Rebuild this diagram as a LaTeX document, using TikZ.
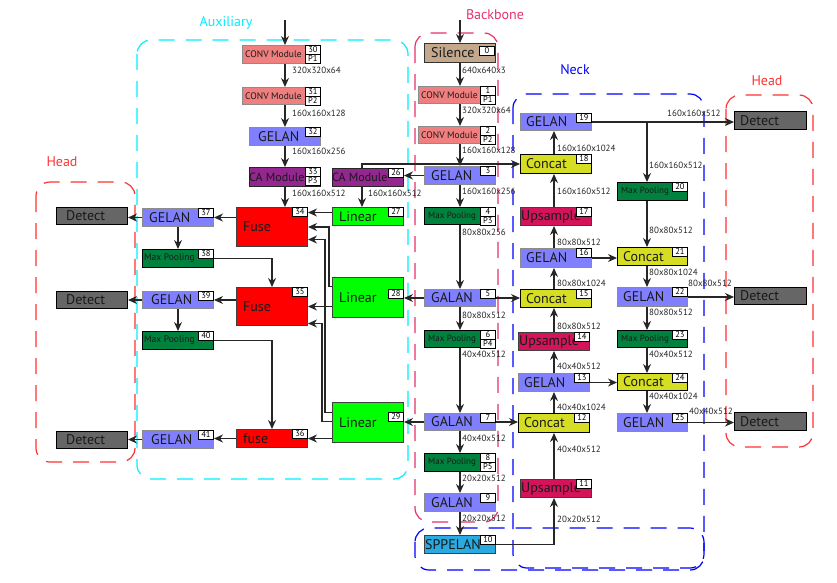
\documentclass[tikz,border=0pt]{standalone}
\usepackage{fontspec}
\setmainfont{PT Sans}
\usetikzlibrary{arrows.meta,calc}
\definecolor{cSil}{RGB}{196,168,140}
\definecolor{cConv}{RGB}{240,128,128}
\definecolor{cGel}{RGB}{128,128,255}
\definecolor{cCA}{RGB}{147,39,143}
\definecolor{cMP}{RGB}{0,130,62}
\definecolor{cCat}{RGB}{214,222,35}
\definecolor{cUp}{RGB}{212,20,90}
\definecolor{cFuse}{RGB}{255,0,0}
\definecolor{cLin}{RGB}{0,255,0}
\definecolor{cDet}{RGB}{102,102,102}
\definecolor{cSpp}{RGB}{41,171,226}
\definecolor{rAux}{RGB}{0,240,255}
\definecolor{rBB}{RGB}{230,50,110}
\definecolor{rNeck}{RGB}{0,0,255}
\definecolor{rHead}{RGB}{255,50,50}
\newcommand\blk[9]{%
  \node[bxbase,#2,minimum width=#5pt-#3pt,minimum height=#6pt-#4pt] (#1) at (#3,#4) {};
  \node[txt,#8] (#1-t) at ([xshift=#7pt]#1.west) {#9};}
\newcommand\nb[2]{\node[numb,anchor=north east] (#1-n) at (#1.north east) {#2};}
\newcommand\nbp[3]{\nb{#1}{#2}\node[numb,anchor=north] (#1-p) at (#1-n.south) {#3};}
\begin{document}
\begin{tikzpicture}[x=1pt,y=-1pt,
  bxbase/.style={rectangle,anchor=north west,inner sep=0pt,line width=1pt},
  sil/.style={fill=cSil,draw=black!80},
  conv/.style={fill=cConv,draw=black!45},
  gel/.style={fill=cGel,draw=black!45},
  ca/.style={fill=cCA,draw=black!85},
  mp/.style={fill=cMP,draw=black},
  cat/.style={fill=cCat,draw=black},
  ups/.style={fill=cUp,draw=black!75},
  fuse/.style={fill=cFuse,draw=black!75},
  lin/.style={fill=cLin,draw=black!75},
  det/.style={fill=cDet,draw=black},
  spp/.style={fill=cSpp,draw=black!75},
  txt/.style={anchor=west,inner sep=0pt,text=black!90},
  big/.style={font=\fontsize{14}{14}\selectfont},
  mid/.style={font=\fontsize{12}{12}\selectfont},
  small/.style={font=\fontsize{9.5}{10}\selectfont},
  tiny/.style={font=\fontsize{9}{9}\selectfont},
  numb/.style={draw=black,fill=white,line width=0.7pt,minimum width=15.5pt,minimum height=8.5pt,inner sep=0pt,font=\fontsize{8.5}{8.5}\selectfont},
  lbl/.style={anchor=west,inner sep=0pt,font=\fontsize{9}{9}\selectfont,text=black!85},
  ttl/.style={inner sep=0pt,font=\fontsize{14}{14}\selectfont},
  arr/.style={draw=black!85,line width=1.1pt,-{Stealth[length=9pt,width=8pt]}},
  reg/.style={line width=1.2pt,dash pattern=on 16pt off 11pt,rounded corners=14pt}]
\fill[white] (0,0) rectangle (837,582);
\useasboundingbox (0,0) rectangle (837,582);
% regions
\draw[reg,rAux] (137,40) rectangle (408,479);
\draw[reg,rBB] (415,33) rectangle (498,522);
\draw[reg,rNeck] (513,94) rectangle (704,568);
\draw[reg,rNeck] (415,528) rectangle (704,570);
\draw[reg,rHead] (726,95) rectangle (813,447);
\draw[reg,rHead] (36,182) rectangle (135,462);
\node[ttl,text=rAux] (tAux) at (226,23) {Auxiliary};
\node[ttl,text=rBB] (tBB) at (495,15) {Backbone};
\node[ttl,text=rNeck] (tNeck) at (575,70) {Neck};
\node[ttl,text=rHead] (tHeadR) at (767,81) {Head};
\node[ttl,text=rHead] (tHeadL) at (62,162) {Head};
% column coordinates
\coordinate (colA) at (285,0);
\coordinate (colB) at (460,0);
\coordinate (colN1) at (554,0);
\coordinate (colN2) at (647,0);
\coordinate (colCA) at (362,0);
\coordinate (colL) at (178,0);
\coordinate (colF) at (272,0);
\coordinate (inA) at (285,20);
\coordinate (inB) at (460,20);
% backbone
\blk{s0}{sil}{424}{43}{495}{62}{7}{big}{Silence}
\node[numb,anchor=north east] (s0-n) at ([xshift=-1pt,yshift=-3pt]s0.north east) {0};
\blk{c1}{conv}{418}{86}{495}{103}{3}{small}{CONV Module}\nbp{c1}{1}{P1}
\blk{c2}{conv}{418}{126}{495}{143}{3}{small}{CONV Module}\nbp{c2}{2}{P2}
\blk{g3}{gel}{424}{166}{495}{184}{7}{big}{GELAN}\nb{g3}{3}
\blk{mp4}{mp}{424}{207}{495}{224}{4}{tiny}{Max Pooling}\nbp{mp4}{4}{P3}
\blk{g5}{gel}{424}{289}{495}{306}{7}{big}{GALAN}\nb{g5}{5}
\blk{mp6}{mp}{424}{330}{495}{347}{4}{tiny}{Max Pooling}\nbp{mp6}{6}{P4}
\blk{g7}{gel}{424}{413}{495}{430}{7}{big}{GALAN}\nb{g7}{7}
\blk{mp8}{mp}{424}{453}{495}{471}{4}{tiny}{Max Pooling}\nbp{mp8}{8}{P5}
\blk{g9}{gel}{424}{493}{495}{511}{7}{big}{GALAN}\nb{g9}{9}
\blk{sp10}{spp}{424}{535}{495}{553}{1}{big}{SPPELAN}\nb{sp10}{10}
% neck column 1
\blk{g19}{gel}{520}{113}{591}{130}{6}{big}{GELAN}\nb{g19}{19}
\blk{c18}{cat}{520}{154}{591}{173}{6}{big}{Concat}\nb{c18}{18}
\blk{u17}{ups}{520}{207}{591}{225}{1}{big}{Upsample}\nb{u17}{17}
\blk{g16}{gel}{520}{248}{591}{267}{6}{big}{GELAN}\nb{g16}{16}
\blk{c15}{cat}{520}{289}{591}{307}{6}{big}{Concat}\nb{c15}{15}
\blk{u14}{ups}{518}{332}{589}{350}{1}{big}{Upsample}\nb{u14}{14}
\blk{g13}{gel}{518}{373}{589}{391}{6}{big}{GELAN}\nb{g13}{13}
\blk{c12}{cat}{518}{413}{589}{432}{6}{big}{Concat}\nb{c12}{12}
\blk{u11}{ups}{520}{479}{591}{497}{1}{big}{Upsample}\nb{u11}{11}
% neck column 2
\blk{mp20}{mp}{617}{182}{687}{200}{4}{tiny}{Max Pooling}\nb{mp20}{20}
\blk{c21}{cat}{617}{247}{687}{265}{6}{big}{Concat}\nb{c21}{21}
\blk{g22}{gel}{617}{287}{687}{306}{6}{big}{GELAN}\nb{g22}{22}
\blk{mp23}{mp}{617}{330}{687}{347}{4}{tiny}{Max Pooling}\nb{mp23}{23}
\blk{c24}{cat}{617}{373}{687}{390}{6}{big}{Concat}\nb{c24}{24}
\blk{g25}{gel}{617}{413}{687}{431}{6}{big}{GELAN}\nb{g25}{25}
% head right
\blk{d1}{det}{734}{111}{806}{129}{6}{big}{Detect}
\blk{d2}{det}{734}{287}{806}{304}{6}{big}{Detect}
\blk{d3}{det}{734}{412}{806}{430}{6}{big}{Detect}
% auxiliary
\blk{c30}{conv}{242}{45}{320}{63}{3}{small}{CONV Module}\nbp{c30}{30}{P1}
\blk{c31}{conv}{242}{87}{320}{104}{3}{small}{CONV Module}\nbp{c31}{31}{P2}
\blk{g32}{gel}{249}{127}{320}{145}{9}{big}{GELAN}\nb{g32}{32}
\blk{ca33}{ca}{249}{167}{320}{186}{0}{mid}{CA Module}\nbp{ca33}{33}{P3}
\blk{ca26}{ca}{332}{168}{403}{186}{0}{mid}{CA Module}\nb{ca26}{26}
\blk{f34}{fuse}{236}{207}{307}{246}{7}{big}{Fuse}\nb{f34}{34}
\blk{l27}{lin}{332}{207}{403}{225}{7}{big}{Linear}\nb{l27}{27}
\blk{g37}{gel}{142}{208}{213}{226}{7}{big}{GELAN}\nb{g37}{37}
\blk{d4}{det}{56}{207}{127}{224}{10}{big}{Detect}
\blk{mp38}{mp}{142}{249}{213}{267}{2}{small}{Max Pooling}\nb{mp38}{38}
\blk{f35}{fuse}{236}{287}{307}{325}{7}{big}{Fuse}\nb{f35}{35}
\blk{l28}{lin}{332}{277}{403}{317}{7}{big}{Linear}
\node[numb,anchor=north east] (l28-n) at ([yshift=-12pt]l28.north east) {28};
\blk{g39}{gel}{142}{291}{213}{308}{9}{big}{GELAN}\nb{g39}{39}
\blk{d5}{det}{56}{291}{127}{308}{10}{big}{Detect}
\blk{mp40}{mp}{142}{331}{213}{349}{2}{small}{Max Pooling}\nb{mp40}{40}
\blk{f36}{fuse}{236}{429}{307}{447}{7}{big}{fuse}\nb{f36}{36}
\blk{l29}{lin}{332}{402}{403}{442}{7}{big}{Linear}
\node[numb,anchor=north east] (l29-n) at ([yshift=-10pt]l29.north east) {29};
\blk{g41}{gel}{142}{430}{213}{448}{9}{big}{GELAN}\nb{g41}{41}
\blk{d6}{det}{56}{431}{127}{448}{10}{big}{Detect}
% backbone arrows
\draw[arr] (inB) -- (s0.north -| inB);
\draw[arr] (s0.south -| colB) -- (c1.north -| colB);
\draw[arr] (c1.south -| colB) -- (c2.north -| colB);
\draw[arr] (c2.south -| colB) -- (g3.north -| colB);
\draw[arr] (g3.south -| colB) -- (mp4.north -| colB);
\draw[arr] (mp4.south -| colB) -- (g5.north -| colB);
\draw[arr] (g5.south -| colB) -- (mp6.north -| colB);
\draw[arr] (mp6.south -| colB) -- (g7.north -| colB);
\draw[arr] (g7.south -| colB) -- (mp8.north -| colB);
\draw[arr] (mp8.south -| colB) -- (g9.north -| colB);
\draw[arr] (g9.south -| colB) -- (sp10.north -| colB);
\node[lbl] (e1) at (462,70) {640x640x3};
\node[lbl] (e2) at (462,110) {320x320x64};
\node[lbl] (e3) at (462,150) {160x160x128};
\node[lbl] (e4) at (462,191) {160x160x256};
\node[lbl] (e5) at (462,232) {80x80x256};
\node[lbl] (e6) at (462,315) {80x80x512};
\node[lbl] (e7) at (462,354) {40x40x512};
\node[lbl] (e8) at (462,438) {40x40x512};
\node[lbl] (e9) at (462,478) {20x20x512};
\node[lbl] (e10) at (462,518) {20x20x512};
% aux column arrows
\draw[arr] (inA) -- (c30.north -| inA);
\draw[arr] (c30.south -| colA) -- (c31.north -| colA);
\draw[arr] (c31.south -| colA) -- (g32.north -| colA);
\draw[arr] (g32.south -| colA) -- (ca33.north -| colA);
\draw[arr] (ca33.south -| colA) -- (f34.north -| colA);
\node[lbl] (a1) at (292,70) {320x320x64};
\node[lbl] (a2) at (292,113) {160x160x128};
\node[lbl] (a3) at (292,151) {160x160x256};
\node[lbl] (a4) at (292,193) {160x160x512};
\node[lbl] (a5) at (368,193) {160x160x512};
% backbone to aux / neck
\draw[arr] (g3.west) -- (g3.west -| ca26.east);
\draw[arr] (ca26.south -| colCA) -- (l27.north -| colCA);
\draw[arr] (ca26.north -| colCA) |- (c18.west);
\draw[arr] (g5.west) -- (g5.west -| l28.east);
\draw[arr] (g5.east) -- (g5.east -| c15.west);
\draw[arr] (g7.west) -- (g7.west -| l29.east);
\draw[arr] (g7.east) -- (g7.east -| c12.west);
\draw[arr] (sp10.east) -| (u11.south -| colN1);
% linear to fuse
\draw[arr] ([yshift=4pt]l27.west) -- ([yshift=4pt]l27.west -| f34.east);
\draw[arr] ([yshift=11pt]l28.west) -- ++(-3,0) |- (f34.east);
\draw[arr] (l28.west |- f35.east) -- (f35.east);
\draw[arr] ([yshift=10pt]l29.west) -- ++(-7,0) |- ([yshift=-12.5pt]f34.east);
\draw[arr] ([yshift=1pt]l29.west) -- ++(-10,0) |- ([yshift=-17pt]f35.east);
\draw[arr] (l29.west |- f36.east) -- (f36.east);
% aux left
\draw[arr] (f34.west |- g37.east) -- (g37.east);
\draw[arr] (g37.west) -- (g37.west -| d4.east);
\draw[arr] (g37.south -| colL) -- (mp38.north -| colL);
\draw[arr] (mp38.east) -| (f35.north -| colF);
\draw[arr] (f35.west |- g39.east) -- (g39.east);
\draw[arr] (g39.west) -- (g39.west -| d5.east);
\draw[arr] (g39.south -| colL) -- (mp40.north -| colL);
\draw[arr] (mp40.east) -| (f36.north -| colF);
\draw[arr] (f36.west) -- (f36.west -| g41.east);
\draw[arr] (g41.west) -- (g41.west -| d6.east);
% neck column 1
\draw[arr] (u11.north -| colN1) -- (c12.south -| colN1);
\draw[arr] (c12.north -| colN1) -- (g13.south -| colN1);
\draw[arr] (g13.north -| colN1) -- (u14.south -| colN1);
\draw[arr] (u14.north -| colN1) -- (c15.south -| colN1);
\draw[arr] (c15.north -| colN1) -- (g16.south -| colN1);
\draw[arr] (g16.north -| colN1) -- (u17.south -| colN1);
\draw[arr] (u17.north -| colN1) -- (c18.south -| colN1);
\draw[arr] (c18.north -| colN1) -- (g19.south -| colN1);
\node[lbl] (n1) at (557,148) {160x160x1024};
\node[lbl] (n2) at (557,191) {160x160x512};
\node[lbl] (n3) at (557,242) {80x80x512};
\node[lbl] (n4) at (557,283) {80x80x1024};
\node[lbl] (n5) at (557,326) {80x80x512};
\node[lbl] (n6) at (557,366) {40x40x512};
\node[lbl] (n7) at (557,407) {40x40x1024};
\node[lbl] (n8) at (557,449) {40x40x512};
\node[lbl] (n9) at (557,519) {20x20x512};
\draw[arr] (g16.east) -- (g16.east -| c21.west);
\draw[arr] (g13.east) -- (g13.east -| c24.west);
% neck column 2
\draw[arr] (g19.east) -- (g19.east -| d1.west);
\coordinate (br19) at (g19.east -| colN2);
\draw[arr] (br19) -- (mp20.north -| colN2);
\draw[arr] (mp20.south -| colN2) -- (c21.north -| colN2);
\draw[arr] (c21.south -| colN2) -- (g22.north -| colN2);
\draw[arr] (g22.south -| colN2) -- (mp23.north -| colN2);
\draw[arr] (mp23.south -| colN2) -- (c24.north -| colN2);
\draw[arr] (c24.south -| colN2) -- (g25.north -| colN2);
\draw[arr] (g22.east) -- (g22.east -| d2.west);
\draw[arr] (g25.east) -- (g25.east -| d3.west);
\node[lbl] (m1) at (649,165) {160x160x512};
\node[lbl] (m2) at (649,230) {80x80x512};
\node[lbl] (m3) at (649,272) {80x80x1024};
\node[lbl] (m4) at (649,312) {80x80x512};
\node[lbl] (m5) at (649,354) {40x40x512};
\node[lbl] (m6) at (649,396) {40x40x1024};
\node[lbl] (h1) at (667,113) {160x160x512};
\node[lbl] (h2) at (688,283) {80x80x512};
\node[lbl] (h3) at (689,411) {40x40x512};
\end{tikzpicture}
\end{document}
